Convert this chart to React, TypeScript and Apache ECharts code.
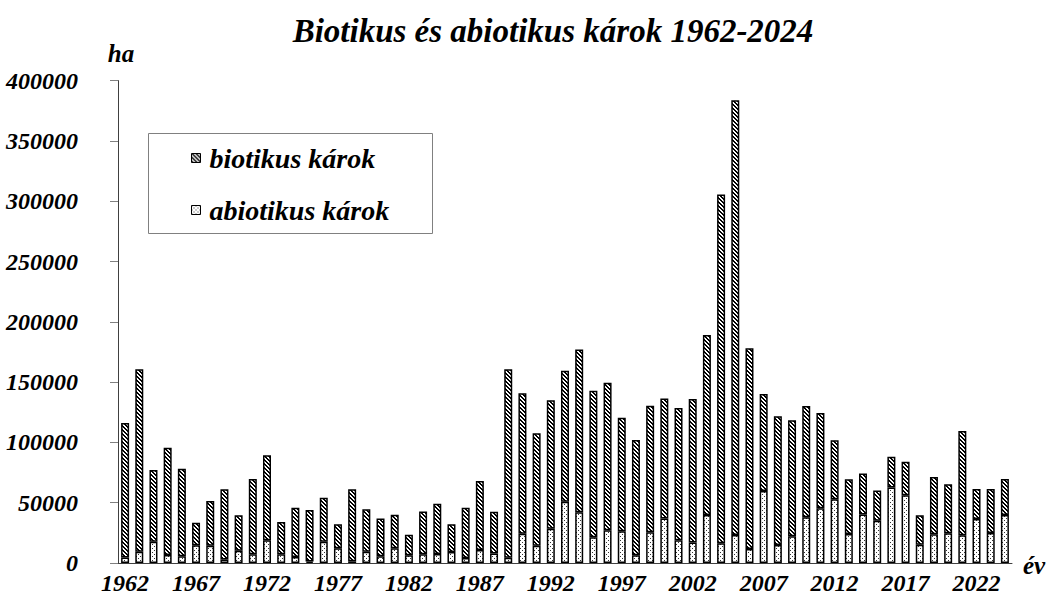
import React, { useEffect, useRef } from "react";
import * as echarts from "echarts";

const years: string[] = [];
for (let y = 1962; y <= 2024; y++) years.push(String(y));

const abiotic = [
  4500, 9400, 17700, 6600, 5500, 14700, 14400, 3000, 10200, 7200,
  18800, 7200, 5000, 1200, 17700, 12200, 1400, 9400, 5500, 12200,
  6400, 7200, 7500, 9100, 4100, 10800, 7800, 4400, 24300, 14400,
  28400, 50800, 42000, 21300, 27100, 26300, 6400, 25400, 37000, 18800,
  17100, 39800, 16300, 23200, 11600, 59700, 14900, 22100, 37900, 45300,
  52800, 24000, 40300, 35100, 62700, 56100, 15200, 23800, 24600, 23000,
  36500, 24900, 39800,
];

const biotic = [
  111500, 151200, 59400, 89000, 72700, 18700, 37000, 58100, 29300, 62400,
  70500, 26800, 40900, 42700, 36400, 19900, 59700, 35100, 31500, 27900,
  17100, 35400, 41700, 23000, 41800, 57200, 34700, 156200, 116400, 93100,
  106500, 108600, 135100, 121600, 122400, 94200, 95600, 105000, 99500, 109800,
  118900, 149200, 289300, 360600, 166400, 80400, 106700, 96300, 92300, 79100,
  48900, 45400, 34000, 25100, 25400, 27900, 24300, 47500, 40600, 86400,
  24800, 36400, 29800,
];

const FONT = "Liberation Serif, serif";

function makePattern(kind: "hatch" | "dots") {
  const c = document.createElement("canvas");
  c.width = 4;
  c.height = 4;
  const ctx = c.getContext("2d")!;
  ctx.fillStyle = "#ffffff";
  ctx.fillRect(0, 0, 4, 4);
  if (kind === "hatch") {
    ctx.fillStyle = "#000000";
    for (let i = 0; i < 4; i++) {
      ctx.fillRect(i, i, 1, 1);
      ctx.fillRect((i + 1) % 4, i, 1, 1);
    }
  } else {
    ctx.fillStyle = "#333333";
    ctx.fillRect(0, 0, 1, 1);
    ctx.fillRect(2, 2, 1, 1);
  }
  return {
    image: c.toDataURL(),
    repeat: "repeat",
    imageWidth: 4,
    imageHeight: 4,
  } as any;
}

const textBase = {
  fontFamily: FONT,
  fontStyle: "italic",
  fontWeight: "bold",
  color: "#000",
};

export default function App() {
  const ref = useRef<HTMLDivElement>(null);
  useEffect(() => {
    if (!ref.current) return;
    const chart = echarts.init(ref.current, undefined, { renderer: "svg" });
    const hatch = makePattern("hatch");
    const dots = makePattern("dots");
    chart.setOption({
      animation: false,
      backgroundColor: "#ffffff",
      textStyle: { fontFamily: FONT },
      grid: { left: 118, right: 41, top: 80.6, bottom: 45 },
      legend: {
        data: ["biotikus károk", "abiotikus károk"],
        orient: "vertical",
        left: 191,
        top: 143,
        padding: 0,
        itemWidth: 9,
        itemHeight: 9,
        itemGap: 22,
        icon: "rect",
        selectedMode: false,
        itemStyle: { borderColor: "#000", borderWidth: 1 },
        textStyle: { ...textBase, fontSize: 28, lineHeight: 30, padding: [0, 0, 0, 4] },
      },
      xAxis: {
        type: "category",
        data: years,
        boundaryGap: true,
        axisLine: { lineStyle: { color: "#404040", width: 1 } },
        axisTick: { interval: 0, length: 7, lineStyle: { color: "#808080" } },
        axisLabel: { ...textBase, interval: 4, margin: 8, fontSize: 24 },
      },
      yAxis: {
        type: "value",
        min: 0,
        max: 400000,
        interval: 50000,
        splitLine: { show: false },
        axisLine: { show: true, lineStyle: { color: "#404040", width: 1 } },
        axisTick: { show: true, length: 8, lineStyle: { color: "#808080" } },
        axisLabel: {
          ...textBase,
          margin: 40,
          fontSize: 24,
          formatter: (v: number) => String(v),
        },
      },
      series: [
        {
          name: "abiotikus károk",
          type: "bar",
          stack: "total",
          barWidth: 8,
          data: abiotic,
          itemStyle: { color: dots, borderColor: "#000", borderWidth: 1.5 },
        },
        {
          name: "biotikus károk",
          type: "bar",
          stack: "total",
          barWidth: 8,
          data: biotic,
          itemStyle: { color: hatch, borderColor: "#000", borderWidth: 1.5 },
        },
      ],
      graphic: [
        {
          type: "rect",
          shape: { x: 148.5, y: 133.5, width: 284, height: 100 },
          style: { fill: "none", stroke: "#808080", lineWidth: 1 },
          z: 0,
        },
        {
          type: "text",
          x: 553,
          y: 31,
          style: {
            text: "Biotikus és abiotikus károk 1962-2024",
            font: `italic bold 33px ${FONT}`,
            fill: "#000",
            textAlign: "center",
            textVerticalAlign: "middle",
          },
        },
        {
          type: "text",
          x: 121,
          y: 53,
          style: {
            text: "ha",
            font: `italic bold 25px ${FONT}`,
            fill: "#000",
            textAlign: "center",
            textVerticalAlign: "middle",
          },
        },
        {
          type: "text",
          x: 1034,
          y: 565,
          style: {
            text: "év",
            font: `italic bold 25px ${FONT}`,
            fill: "#000",
            textAlign: "center",
            textVerticalAlign: "middle",
          },
        },
      ],
    });
    return () => chart.dispose();
  }, []);
  return <div ref={ref} style={{ width: 1053, height: 608, position: "absolute", left: 0, top: 0 }} />;
}
